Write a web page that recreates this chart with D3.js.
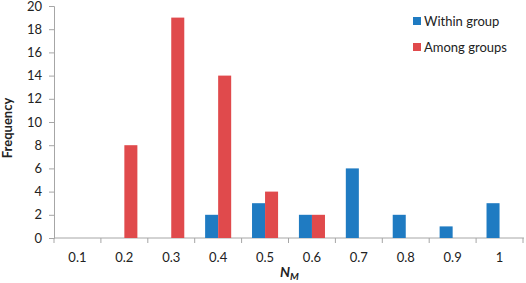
<!DOCTYPE html>
<html>
<head>
<meta charset="utf-8">
<script src="https://cdn.jsdelivr.net/npm/d3@7"></script>
<style>
  body { margin: 0; background: #fff; }
  text { font-family: Lato, "Open Sans", sans-serif; fill: #222; }
</style>
</head>
<body>
<script>
var categories = ['0.1', '0.2', '0.3', '0.4', '0.5', '0.6', '0.7', '0.8', '0.9', '1']
var seriesNames = ['Within group', 'Among groups']
var withinGroup = [0, 0, 0, 2, 3, 2, 6, 2, 1, 3]
var amongGroups = [0, 8, 19, 14, 4, 2, 0, 0, 0, 0]
var yTicks = [0, 2, 4, 6, 8, 10, 12, 14, 16, 18, 20]
var colors = ['#1f7bc2', '#e04a4c']

;(function() {
  var W = 526, H = 283
  var padL = 54, padR = 523, padT = 6, padB = 238

  var svg = d3.select('body').append('svg')
    .attr('width', W)
    .attr('height', H)

  var rows = categories.map(function(c, i) {
    return { cat: c, vals: [withinGroup[i], amongGroups[i]] }
  })

  var x0 = d3.scaleBand().domain(categories).range([padL, padR]).padding(0)
  var bw = x0.bandwidth()
  // two bars, gap width 80% like excel
  var x1 = d3.scaleBand().domain([0, 1])
    .range([bw * 0.4 / 1.8, bw - bw * 0.4 / 1.8]).padding(0)
  var y = d3.scaleLinear().domain([0, 20]).range([padB, padT])

  // y axis
  var yAxis = svg.append('g')
    .attr('transform', 'translate(' + padL + ',0)')
    .call(d3.axisLeft(y).tickValues(yTicks).tickSize(5).tickPadding(7))
  yAxis.selectAll('line, path').attr('stroke', '#a6a6a6')
  yAxis.selectAll('text').style('font-size', '13px').attr('fill', '#222')

  // x axis, ticks on category boundaries
  var xg = svg.append('g').attr('transform', 'translate(0,' + padB + ')')
  xg.append('line')
    .attr('x1', padL).attr('x2', padR + 1)
    .attr('stroke', '#a6a6a6')
  xg.selectAll('line.tk').data(categories.concat(['end'])).enter()
    .append('line')
    .attr('class', 'tk')
    .attr('x1', function(d, i) { return padL + i * bw })
    .attr('x2', function(d, i) { return padL + i * bw })
    .attr('y1', 0).attr('y2', 5)
    .attr('stroke', '#a6a6a6')
  xg.selectAll('text').data(categories).enter()
    .append('text')
    .attr('x', function(d) { return x0(d) + bw / 2 })
    .attr('y', 24)
    .attr('text-anchor', 'middle')
    .style('font-size', '13px')
    .text(function(d) { return d })

  // bars
  var groups = svg.selectAll('g.cat').data(rows).enter()
    .append('g')
    .attr('class', 'cat')
    .attr('transform', function(d) { return 'translate(' + x0(d.cat) + ',0)' })
  groups.selectAll('rect').data(function(d) { return d.vals }).enter()
    .append('rect')
    .attr('x', function(d, i) { return x1(i) })
    .attr('y', function(d) { return y(d) })
    .attr('width', x1.bandwidth())
    .attr('height', function(d) { return padB - y(d) })
    .attr('fill', function(d, i) { return colors[i] })

  // axis titles
  svg.append('text')
    .attr('transform', 'translate(12,' + ((padT + padB) / 2 + 6) + ') rotate(-90)')
    .attr('text-anchor', 'middle')
    .style('font-size', '13px')
    .style('font-weight', 'bold')
    .text('Frequency')

  var xt = svg.append('text')
    .attr('x', 280)
    .attr('y', 277)
    .style('font-size', '14px')
    .style('font-weight', 'bold')
    .style('font-style', 'italic')
  xt.append('tspan').text('N')
  xt.append('tspan').attr('dy', 3).style('font-size', '10px').text('M')

  // legend
  var leg = svg.selectAll('g.leg').data(seriesNames).enter()
    .append('g')
    .attr('class', 'leg')
    .attr('transform', function(d, i) { return 'translate(413,' + (17 + i * 26) + ')' })
  leg.append('rect')
    .attr('width', 8).attr('height', 8)
    .attr('fill', function(d, i) { return colors[i] })
  leg.append('text')
    .attr('x', 11).attr('y', 8.5)
    .style('font-size', '13px')
    .text(function(d) { return d })
})()
</script>
</body>
</html>
